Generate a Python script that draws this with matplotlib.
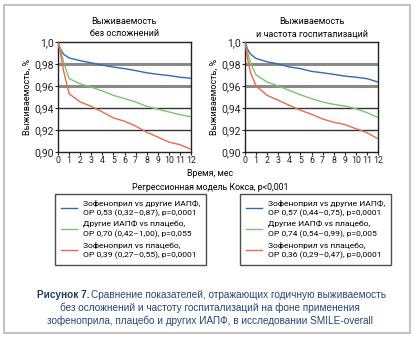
import matplotlib
matplotlib.use("Agg")
import matplotlib.pyplot as plt
from matplotlib.lines import Line2D
from matplotlib.patches import Rectangle

plt.rcParams['font.family'] = ['Roboto', 'DejaVu Sans']

months = [0, 0.25, 0.5, 1, 2, 3, 4, 5, 6, 7, 8, 9, 10, 11, 12]

# survival without complications
left_blue = [1.0, 0.993, 0.989, 0.9855, 0.983, 0.981, 0.979, 0.9772, 0.9758, 0.974, 0.972, 0.9706, 0.9695, 0.968, 0.967]
left_green = [1.0, 0.992, 0.982, 0.9667, 0.962, 0.959, 0.9555, 0.9515, 0.9485, 0.9455, 0.9415, 0.939, 0.9364, 0.934, 0.932]
left_red = [1.0, 0.988, 0.974, 0.953, 0.9455, 0.9415, 0.9364, 0.931, 0.928, 0.9236, 0.918, 0.9136, 0.909, 0.9067, 0.9025]

# survival and hospitalization rate
right_blue = [1.0, 0.993, 0.989, 0.985, 0.982, 0.980, 0.9773, 0.9758, 0.9733, 0.972, 0.9706, 0.969, 0.968, 0.9667, 0.9636]
right_green = [1.0, 0.990, 0.981, 0.970, 0.9636, 0.960, 0.956, 0.952, 0.9485, 0.9455, 0.9433, 0.9418, 0.9394, 0.9358, 0.9313]
right_red = [1.0, 0.984, 0.972, 0.960, 0.9515, 0.947, 0.9424, 0.938, 0.9343, 0.930, 0.927, 0.925, 0.9212, 0.9176, 0.912]

yticks = [0.90, 0.92, 0.94, 0.96, 0.98, 1.0]
ytick_labels = ["0,90", "0,92", "0,94", "0,96", "0,98", "1,0"]
xticks = list(range(13))

titles = ["Выживаемость\nбез осложнений", "Выживаемость\nи частота госпитализаций"]

left_labels = ["Зофеноприл vs другие ИАПФ,\nОР 0,53 (0,32–0,87), p=0,0001",
               "Другие ИАПФ vs плацебо,\nОР 0,70 (0,42–1,00), p=0,055",
               "Зофеноприл vs плацебо,\nОР 0,39 (0,27–0,55), p=0,0001"]
right_labels = ["Зофеноприл vs другие ИАПФ,\nОР 0,57 (0,44–0,75), p=0,0001",
                "Другие ИАПФ vs плацебо,\nОР 0,74 (0,54–0,99), p=0,005",
                "Зофеноприл vs плацебо,\nОР 0,36 (0,29–0,47), p=0,0001"]

colors = ["#2b6cb3", "#7cc46c", "#ea6a4a"]

W, H = 418, 340
fig = plt.figure(figsize=(W / 100, H / 100), dpi=100)

# outer frame
fig.patches.append(Rectangle((4 / W, 1 - 333 / H), 406 / W, 328 / H, transform=fig.transFigure,
                             fill=False, edgecolor="#c4c4c4", linewidth=1.5))

panels = [
    (58, left_blue, left_green, left_red, titles[0], left_labels, 55),
    (245, right_blue, right_green, right_red, titles[1], right_labels, 240),
]

for x0, blue, green, red, title, labels, lx in panels:
    ax = fig.add_axes([x0 / W, 1 - 152 / H, 133 / W, 110 / H])
    for y in [0.98, 0.96]:
        ax.axhline(y, color="#8a8a8a", linewidth=2.2, zorder=1)
    for y in [0.94, 0.92]:
        ax.axhline(y, color="#333333", linewidth=1.0, zorder=1)
    ax.plot(months, blue, color=colors[0], linewidth=1.0, zorder=3)
    ax.plot(months, green, color=colors[1], linewidth=1.0, zorder=3)
    ax.plot(months, red, color=colors[2], linewidth=1.0, zorder=3)
    ax.set_xlim(0, 12)
    ax.set_ylim(0.90, 1.0)
    ax.set_yticks(yticks)
    ax.set_yticklabels(ytick_labels, fontsize=7.5)
    ax.set_xticks(xticks)
    ax.set_xticklabels([str(v) for v in xticks], fontsize=6.3)
    ax.tick_params(axis="both", length=2, width=0.8, pad=1, colors="#222222")
    for s in ax.spines.values():
        s.set_linewidth(1.0)
        s.set_color("#222222")
    ax.set_ylabel("Выживаемость, %", fontsize=6.5, labelpad=2)
    ax.set_title(title, fontsize=6.5, pad=4, linespacing=1.5)

    handles = [Line2D([], [], color=c, linewidth=1.0) for c in colors]
    leg = fig.legend(handles, labels, loc="upper left",
                     bbox_to_anchor=(lx / W, 1 - 194 / H), fontsize=6.1,
                     frameon=True, fancybox=False, edgecolor="#222222",
                     handlelength=1.9, handletextpad=0.7, labelspacing=0.5,
                     borderpad=0.7, borderaxespad=0)
    leg.get_frame().set_linewidth(1.0)
    for t in leg.get_texts():
        t.set_linespacing(1.35)

fig.text(210 / W, 1 - 174 / H, "Время, мес", ha="center", va="center", fontsize=6.3)
fig.text(210 / W, 1 - 187 / H, "Регрессионная модель Кокса, p<0,001", ha="center",
         va="center", fontsize=6.3)

cap_font = ['Liberation Sans', 'DejaVu Sans']
fig.text(37 / W, 1 - 295 / H, "Рисунок 7.", ha="left", va="center", fontsize=7.2,
         fontweight="bold", color="#1d3a6e", family=cap_font)
fig.text(91 / W, 1 - 295 / H, "Сравнение показателей, отражающих годичную выживаемость",
         ha="left", va="center", fontsize=7.2, color="#27457a", family=cap_font)
fig.text(210 / W, 1 - 308 / H, "без осложнений и частоту госпитализаций на фоне применения",
         ha="center", va="center", fontsize=7.2, color="#27457a", family=cap_font)
fig.text(210 / W, 1 - 321 / H, "зофеноприла, плацебо и других ИАПФ, в исследовании SMILE-overall",
         ha="center", va="center", fontsize=7.2, color="#27457a", family=cap_font)

fig.savefig("out.png", dpi=100)
